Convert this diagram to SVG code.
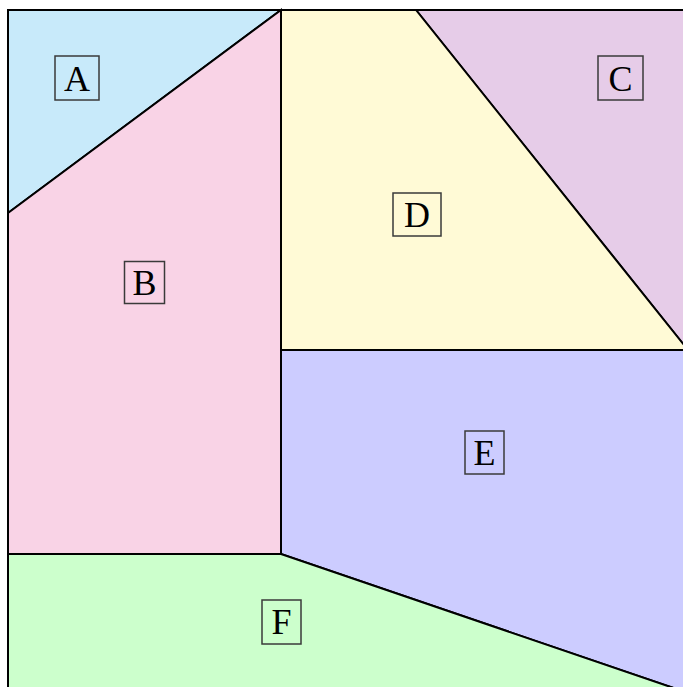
<svg xmlns="http://www.w3.org/2000/svg" width="683" height="687" viewBox="0 0 683 687">
<style>
.r{stroke:#000;stroke-width:2;stroke-linejoin:miter}
.lb rect{fill:none;stroke:#3a3a3a;stroke-width:1.5}
.lb text{font-family:"Liberation Serif","DejaVu Serif",serif;font-size:36px;fill:#000;text-anchor:middle}
</style>
<rect width="683" height="687" fill="#fff"/>
<g id="regions">
<polygon id="A" class="r" fill="#c8eafa" points="8,10 281,10 8,213"/>
<polygon id="B" class="r" fill="#f9d3e6" points="8,213 281,10 281,554 8,554"/>
<polygon id="C" class="r" fill="#e6cce8" points="416,10 700,10 700,350 688,350"/>
<polygon id="D" class="r" fill="#fffad6" points="281,10 416,10 688,350 281,350"/>
<polygon id="E" class="r" fill="#ccccff" points="281,350 700,350 700,697 281,554"/>
<polygon id="F" class="r" fill="#ccffcc" points="8,554 281,554 700,697 700,700 8,700"/>
</g>
<g id="label-A" class="lb"><rect x="55" y="56" width="44" height="44"/><text x="77" y="91">A</text></g>
<g id="label-B" class="lb"><rect x="124.5" y="261.5" width="40" height="42"/><text x="144.5" y="295">B</text></g>
<g id="label-C" class="lb"><rect x="598" y="56" width="45" height="44"/><text x="620.5" y="91">C</text></g>
<g id="label-D" class="lb"><rect x="393" y="193" width="48" height="43"/><text x="417" y="227">D</text></g>
<g id="label-E" class="lb"><rect x="465" y="431" width="39" height="43"/><text x="484.5" y="464.5">E</text></g>
<g id="label-F" class="lb"><rect x="262" y="600" width="39" height="44"/><text x="281.5" y="634">F</text></g>
</svg>
